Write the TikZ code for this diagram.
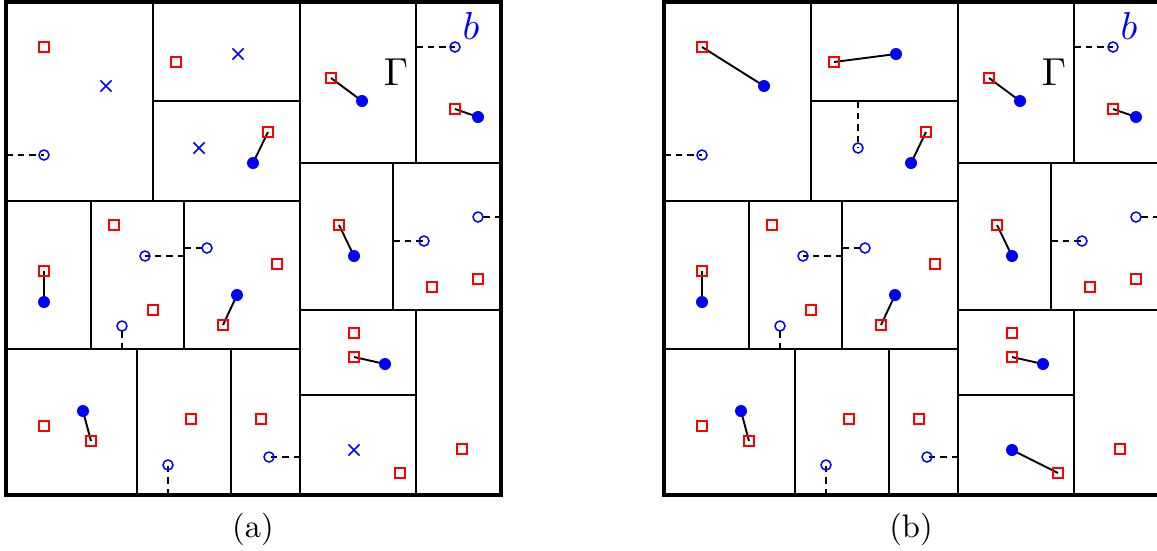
\documentclass[tikz,border=0pt]{standalone}
\usetikzlibrary{shapes.misc,backgrounds}
\tikzset{
  frame/.style={line width=3.3pt},
  cellline/.style={line width=2pt},
  sq/.style={draw=red, line width=1.6pt, rectangle, minimum size=10pt, inner sep=0pt},
  dot/.style={fill=blue, circle, minimum size=12pt, inner sep=0pt},
  ring/.style={draw=blue, line width=1.5pt, circle, minimum size=10pt, inner sep=0pt},
  xmark/.style={draw=blue, line width=1.6pt, cross out, minimum size=9.5pt, inner sep=0pt},
  link/.style={line width=1.9pt},
  proj/.style={line width=1.9pt, dash pattern=on 6.5pt off 5pt},
  bigtext/.style={inner sep=0pt, scale=3.9},
  captext/.style={inner sep=0pt, scale=3.25},
}
\newcommand\panelcommon{%
  % cell boundaries
  \draw[cellline] (153,2) -- (153,201);
  \draw[cellline] (153,101) -- (300,101);
  \draw[cellline] (6,201) -- (300,201);
  \draw[cellline] (300,2) -- (300,495);
  \draw[cellline] (416,2) -- (416,163);
  \draw[cellline] (300,163) -- (501,163);
  \draw[cellline] (393,163) -- (393,310);
  \draw[cellline] (300,310) -- (501,310);
  \draw[cellline] (416,310) -- (416,495);
  \draw[cellline] (300,395) -- (416,395);
  \draw[cellline] (6,349) -- (300,349);
  \draw[cellline] (91,201) -- (91,349);
  \draw[cellline] (184,201) -- (184,349);
  \draw[cellline] (137,349) -- (137,495);
  \draw[cellline] (231,349) -- (231,495);
  \draw[frame] (6,2) rectangle (501,495);
  % boundary end points of projections
  \coordinate (e1) at (6,155);
  \coordinate (e5) at (416,47);
  \coordinate (e7a) at (184,256);
  \coordinate (e7b) at (122,349);
  \coordinate (e8) at (184,248);
  \coordinate (e10a) at (393,241);
  \coordinate (e10b) at (501,217);
  \coordinate (e15) at (168,495);
  \coordinate (e16) at (300,457);
  % points
  \node[sq] (s1) at (44,47) {};
  \node[ring] (r1) at (44,155) {};
  \node[sq] (s2) at (176,62) {};
  \node[sq] (s3) at (268,132) {};
  \node[dot] (d3) at (253,163) {};
  \node[sq] (s4) at (331,78) {};
  \node[dot] (d4) at (362,101) {};
  \node[bigtext] (gam) at (396,72) {$\Gamma$};
  \node[ring] (r5) at (455,47) {};
  \node[bigtext, text=blue] (lb) at (471,26) {$b$};
  \node[sq] (s5) at (455,109) {};
  \node[dot] (d5) at (478,117) {};
  \node[sq] (s6) at (44,271) {};
  \node[dot] (d6) at (44,302) {};
  \node[sq] (s7a) at (114,225) {};
  \node[ring] (r7a) at (145,256) {};
  \node[sq] (s7b) at (153,310) {};
  \node[ring] (r7b) at (122,326) {};
  \node[ring] (r8) at (207,248) {};
  \node[sq] (s8a) at (277,264) {};
  \node[dot] (d8) at (237,295) {};
  \node[sq] (s8b) at (223,325) {};
  \node[sq] (s9) at (339,225) {};
  \node[dot] (d9) at (354,256) {};
  \node[ring] (r10a) at (424,241) {};
  \node[ring] (r10b) at (478,217) {};
  \node[sq] (s10a) at (432,287) {};
  \node[sq] (s10b) at (478,279) {};
  \node[sq] (s11a) at (354,333) {};
  \node[sq] (s11b) at (354,357) {};
  \node[dot] (d11) at (385,364) {};
  \node[sq] (s12) at (400,473) {};
  \node[sq] (s13) at (462,449) {};
  \node[sq] (s14a) at (44,426) {};
  \node[dot] (d14) at (83,411) {};
  \node[sq] (s14b) at (91,441) {};
  \node[sq] (s15) at (191,419) {};
  \node[ring] (r15) at (168,465) {};
  \node[sq] (s16) at (261,419) {};
  \node[ring] (r16) at (269,457) {};
  \begin{pgfonlayer}{background}
    \draw[link] (s3.center) -- (d3.center);
    \draw[link] (s4.center) -- (d4.center);
    \draw[link] (s5.center) -- (d5.center);
    \draw[link] (s6.center) -- (d6.center);
    \draw[link] (s8b.center) -- (d8.center);
    \draw[link] (s9.center) -- (d9.center);
    \draw[link] (s11b.center) -- (d11.center);
    \draw[link] (s14b.center) -- (d14.center);
    \draw[proj] (e1) -- (r1.center);
    \draw[proj] (e5) -- (r5.center);
    \draw[proj] (e7a) -- (r7a.center);
    \draw[proj] (e7b) -- (r7b.center);
    \draw[proj] (e8) -- (r8.center);
    \draw[proj] (e10a) -- (r10a.center);
    \draw[proj] (e10b) -- (r10b.center);
    \draw[proj] (e15) -- (r15.center);
    \draw[proj] (e16) -- (r16.center);
  \end{pgfonlayer}
}
\begin{document}
\begin{tikzpicture}[x=1pt, y=-1pt]
  \useasboundingbox (0,0) rectangle (1157,550);
  \begin{pgfonlayer}{background}
    \fill[white] (0,0) rectangle (1157,550);
  \end{pgfonlayer}
  \clip (0,0) rectangle (1157,550);
  \begin{scope}[name prefix=a-]
    \panelcommon
    \node[xmark] (x1) at (106,86) {};
    \node[xmark] (x2) at (238,54) {};
    \node[xmark] (x3) at (199,148) {};
    \node[xmark] (x12) at (354,450) {};
    \node[captext] (cap) at (253,529) {(a)};
  \end{scope}
  \begin{scope}[xshift=658pt, name prefix=b-]
    \panelcommon
    \coordinate (e3) at (200,101);
    \node[dot] (d1) at (106,86) {};
    \node[dot] (d2) at (238,54) {};
    \node[ring] (r3) at (200,148) {};
    \node[dot] (d12) at (354,450) {};
    \node[captext] (cap) at (253,529) {(b)};
    \begin{pgfonlayer}{background}
      \draw[link] (s1.center) -- (d1.center);
      \draw[link] (s2.center) -- (d2.center);
      \draw[link] (s12.center) -- (d12.center);
      \draw[proj] (e3) -- (r3.center);
    \end{pgfonlayer}
  \end{scope}
\end{tikzpicture}
\end{document}
